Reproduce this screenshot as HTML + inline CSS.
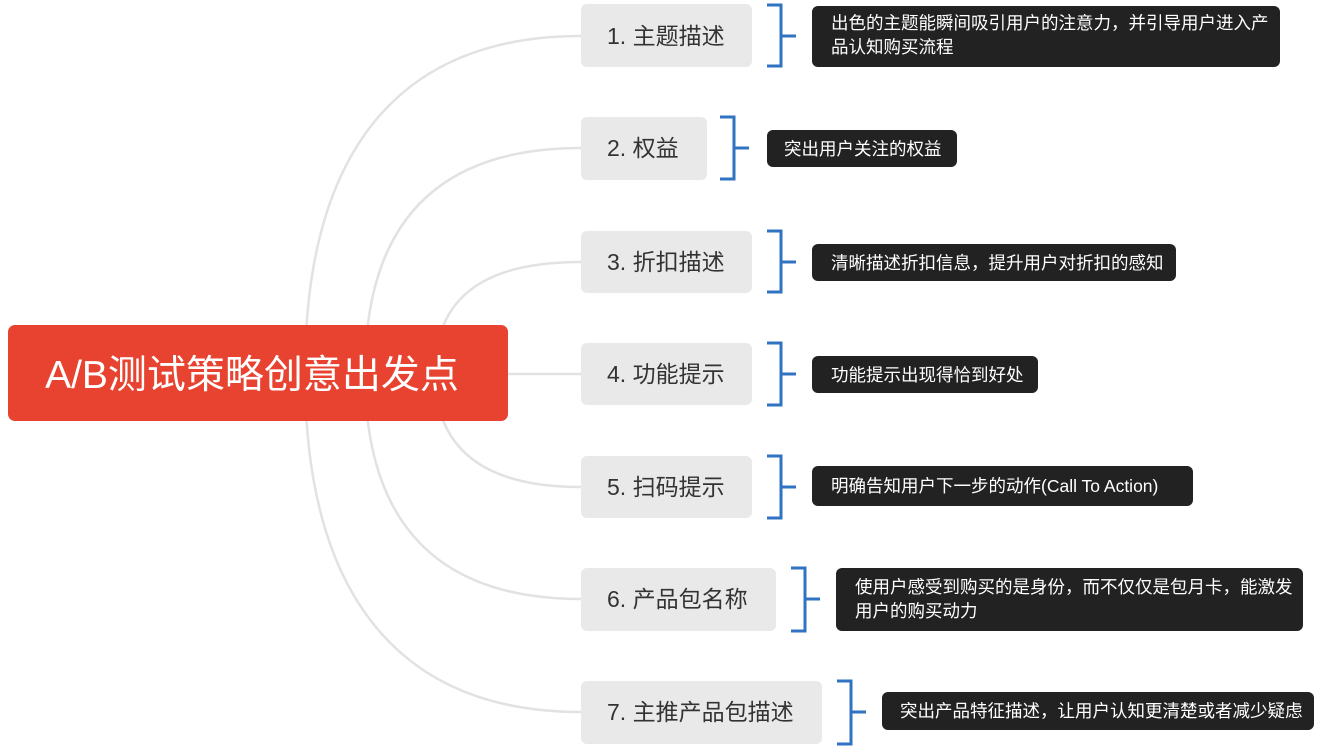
<!DOCTYPE html>
<html><head><meta charset="utf-8"><style>
body{margin:0;background:#fff;width:1322px;height:750px;overflow:hidden;font-family:"Liberation Sans","Noto Sans CJK SC",sans-serif}
</style></head><body>
<svg width="1322" height="750" xmlns="http://www.w3.org/2000/svg" font-family="Liberation Sans, Noto Sans CJK SC, sans-serif">
<g fill="none" stroke="#e2e2e2" stroke-width="2.5">
<path d="M305 373 C305 150 400 36 581 36"/>
<path d="M365 373 C365 220 440 148 581 148"/>
<path d="M435 373 C435 300 480 262 581 262"/>
<path d="M508 374 L581 374"/>
<path d="M435 373 C435 446 480 487 581 487"/>
<path d="M365 373 C365 526 440 599 581 599"/>
<path d="M305 373 C305 596 400 712 581 712"/>
</g>
<rect x="8" y="325" width="500" height="96" rx="7" fill="#e84330"/>
<text x="252" y="388" font-size="39" fill="#fff" text-anchor="middle">A/B测试策略创意出发点</text>
<g fill="#e9e9e9">
<rect x="581" y="4" width="171" height="63" rx="6"/>
<rect x="581" y="117" width="126" height="63" rx="6"/>
<rect x="581" y="231" width="171" height="62" rx="6"/>
<rect x="581" y="343" width="171" height="62" rx="6"/>
<rect x="581" y="456" width="171" height="62" rx="6"/>
<rect x="581" y="568" width="195" height="63" rx="6"/>
<rect x="581" y="681" width="241" height="63" rx="6"/>
</g>
<g font-size="23" fill="#333">
<text x="607" y="44">1. 主题描述</text>
<text x="607" y="156">2. 权益</text>
<text x="607" y="270">3. 折扣描述</text>
<text x="607" y="382">4. 功能提示</text>
<text x="607" y="495">5. 扫码提示</text>
<text x="607" y="607">6. 产品包名称</text>
<text x="607" y="720">7. 主推产品包描述</text>
</g>
<g fill="none" stroke="#2f73c2" stroke-width="3">
<path d="M767 5 H781 V66 H767 M781 36 H796"/>
<path d="M720 117 H734 V179 H720 M734 148 H749"/>
<path d="M767 231 H781 V292 H767 M781 262 H796"/>
<path d="M767 343 H781 V405 H767 M781 374 H796"/>
<path d="M767 456 H781 V518 H767 M781 487 H796"/>
<path d="M791 568 H805 V631 H791 M805 599 H820"/>
<path d="M837 681 H851 V744 H837 M851 712 H866"/>
</g>
<g fill="#222">
<rect x="812" y="6" width="468" height="61" rx="6"/>
<rect x="767" y="130" width="190" height="37" rx="6"/>
<rect x="812" y="244" width="364" height="37" rx="6"/>
<rect x="812" y="356" width="226" height="37" rx="6"/>
<rect x="812" y="466" width="381" height="40" rx="6"/>
<rect x="836" y="568" width="467" height="63" rx="6"/>
<rect x="882" y="692" width="432" height="38" rx="6"/>
</g>
<g font-size="17.5" fill="#fff">
<text x="831" y="29">出色的主题能瞬间吸引用户的注意力，并引导用户进入产</text>
<text x="831" y="53">品认知购买流程</text>
<text x="784" y="155">突出用户关注的权益</text>
<text x="831" y="269">清晰描述折扣信息，提升用户对折扣的感知</text>
<text x="831" y="381">功能提示出现得恰到好处</text>
<text x="831" y="492">明确告知用户下一步的动作(Call To Action)</text>
<text x="855" y="593">使用户感受到购买的是身份，而不仅仅是包月卡，能激发</text>
<text x="855" y="617">用户的购买动力</text>
<text x="900" y="717">突出产品特征描述，让用户认知更清楚或者减少疑虑</text>
</g>
</svg>
</body></html>
